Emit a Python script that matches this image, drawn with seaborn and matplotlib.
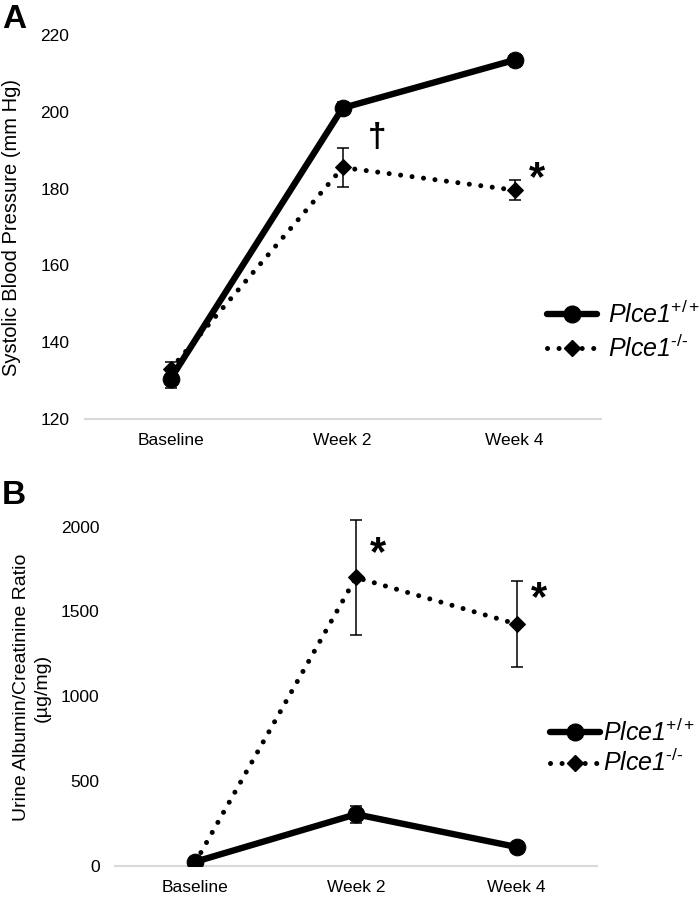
import numpy as np
import pandas as pd
import matplotlib
matplotlib.use("Agg")
import matplotlib.pyplot as plt
import seaborn as sns
from matplotlib.lines import Line2D

# data
timepoints = ["Baseline", "Week 2", "Week 4"]

sbp_wt = [130.5, 201.0, 213.5]
sbp_wt_err = [2.5, 1.5, 0.0]
sbp_ko = [133.0, 185.5, 179.6]
sbp_ko_err = [1.8, 5.1, 2.6]

uacr_wt = [25, 305, 112]
uacr_wt_err = [10, 50, 10]
uacr_ko = [20, 1700, 1425]
uacr_ko_err = [5, 338, 252]

sns.set_style("white")
plt.rcParams["font.family"] = ["Liberation Sans", "DejaVu Sans"]
plt.rcParams["mathtext.fontset"] = "custom"
plt.rcParams["mathtext.it"] = "Liberation Sans:italic"
plt.rcParams["mathtext.rm"] = "Liberation Sans"
for k in ["text.color", "axes.labelcolor", "xtick.color", "ytick.color"]:
    plt.rcParams[k] = "black"

lab_wt = r"Plce1$^{+/+}$"
lab_ko = r"Plce1$^{\text{-/-}}$"
dot_style = (0, (0.01, 2.3))

fig = plt.figure(figsize=(7, 8.98), dpi=100)
axA = fig.add_axes([0.121, 0.5334, 0.737, 0.4276])
axB = fig.add_axes([0.164, 0.0356, 0.689, 0.397])

xpos = np.arange(len(timepoints))


def draw(ax, wt, wt_err, ko, ko_err):
    ax.errorbar(xpos, ko, yerr=ko_err, fmt="none", ecolor="black",
                elinewidth=1.1, capsize=4, capthick=1.1, zorder=2)
    ax.errorbar(xpos, wt, yerr=wt_err, fmt="none", ecolor="black",
                elinewidth=1.1, capsize=4, capthick=1.1, zorder=2)
    sns.lineplot(x=xpos, y=ko, ax=ax, color="black", lw=3.6,
                 linestyle=dot_style, marker="D", markersize=8.5,
                 markeredgecolor="black", zorder=3,
                 dash_capstyle="round")
    sns.lineplot(x=xpos, y=wt, ax=ax, color="black", lw=4.6,
                 marker="o", markersize=12, markeredgecolor="black",
                 zorder=4)
    ax.set_xticks(xpos)
    ax.set_xticklabels(timepoints, fontsize=12)
    ax.set_xlim(-0.5, 2.5)
    for s in ["top", "right", "left"]:
        ax.spines[s].set_visible(False)
    ax.spines["bottom"].set_color("#d9d9d9")
    ax.spines["bottom"].set_linewidth(1.5)
    ax.tick_params(axis="both", length=0, labelsize=12.5)
    ax.tick_params(axis="x", pad=10)
    ax.tick_params(axis="y", pad=11)
    ax.grid(False)


draw(axA, sbp_wt, sbp_wt_err, sbp_ko, sbp_ko_err)
axA.set_ylim(120, 220)
axA.set_yticks([120, 140, 160, 180, 200, 220])
axA.set_ylabel("Systolic Blood Pressure (mm Hg)", fontsize=14.5, labelpad=14)
axA.text(1.2, 193.4, "\u2020", fontsize=24, fontweight="bold",
         ha="center", va="center")
axA.text(2.13, 182.5, "*", fontsize=30, fontweight="bold",
         ha="center", va="center")

draw(axB, uacr_wt, uacr_wt_err, uacr_ko, uacr_ko_err)
axB.set_ylim(0, 2100)
axB.set_yticks([0, 500, 1000, 1500, 2000])
axB.set_ylabel("Urine Albumin/Creatinine Ratio\n(\u00b5g/mg)", fontsize=14,
               labelpad=7, linespacing=1.3)
axB.text(1.14, 1840, "*", fontsize=30, fontweight="bold",
         ha="center", va="center")
axB.text(2.14, 1570, "*", fontsize=30, fontweight="bold",
         ha="center", va="center")

h_wt = Line2D([], [], color="black", lw=4.6, marker="o", markersize=12)
h_ko = Line2D([], [], color="black", lw=3.6, linestyle=dot_style,
              marker="D", markersize=8.5, dash_capstyle="round")

leg_font = {"size": 18, "style": "italic"}
fig.legend([h_wt, h_ko], [lab_wt, lab_ko], loc="center left",
           bbox_to_anchor=(0.781, 0.631), frameon=False, prop=leg_font,
           handlelength=2.0, handletextpad=0.45, labelspacing=0.3,
           borderaxespad=0, borderpad=0)
fig.legend([h_wt, h_ko], [lab_wt, lab_ko], loc="center left",
           bbox_to_anchor=(0.786, 0.1676), frameon=False, prop=leg_font,
           handlelength=2.0, handletextpad=0.1, labelspacing=0.15,
           borderaxespad=0, borderpad=0)

fig.text(0.003, 0.995, "A", fontsize=24, fontweight="bold", va="top")
fig.text(0.003, 0.465, "B", fontsize=24, fontweight="bold", va="top")

fig.savefig("out.png", dpi=100)
